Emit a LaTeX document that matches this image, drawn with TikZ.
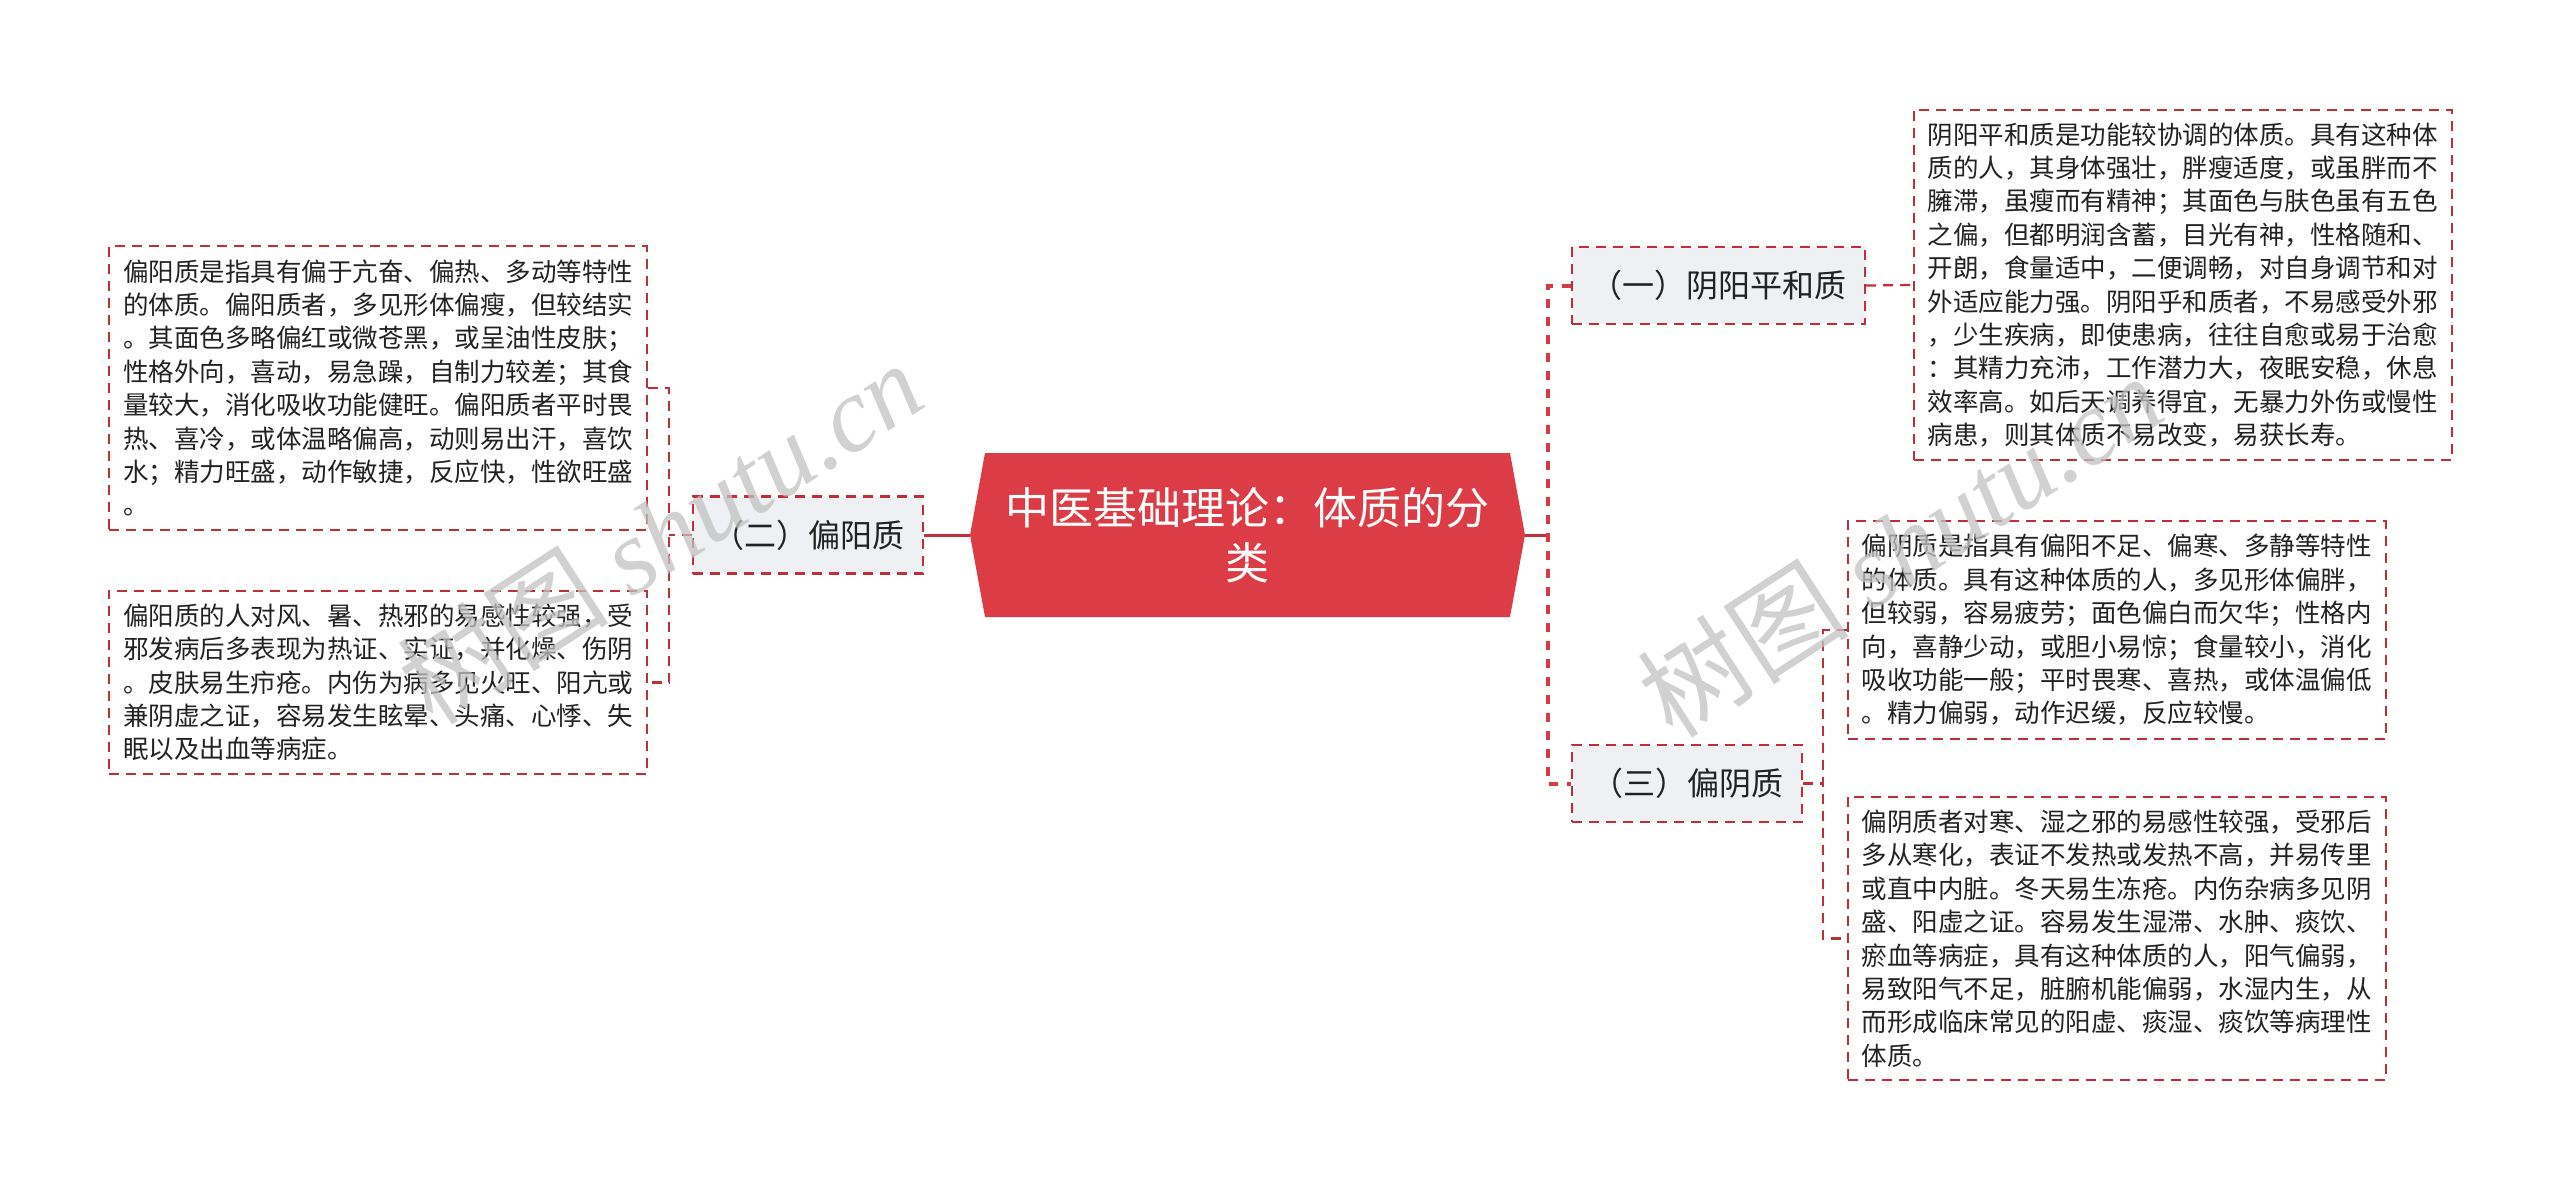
\documentclass[tikz,border=0pt]{standalone}
\usepackage{fontspec}
\setmainfont{Noto Sans CJK SC}
\newfontfamily\wmlat{Liberation Serif}
\definecolor{bdr}{HTML}{BE2F3A}
\definecolor{rootred}{HTML}{DC3C45}
\definecolor{subfill}{HTML}{EEF0F3}
\definecolor{txt}{HTML}{222222}
\definecolor{wmcol}{HTML}{C2C2C2}
\begin{document}
\begin{tikzpicture}[x=1pt,y=-1pt,
  txtbox/.style={draw=bdr, dash pattern=on 10pt off 7pt, line width=2pt, fill=white,
    align=left, inner xsep=14pt, inner ysep=13pt, minimum width=538pt,
    font=\fontsize{25.5pt}{33.4pt}\selectfont, text=txt},
  subbox/.style={draw=bdr, dash pattern=on 10pt off 7pt, line width=2.2pt, fill=subfill,
    minimum height=77pt, inner sep=0pt, font=\fontsize{32pt}{38pt}\selectfont, text=txt},
  roottext/.style={align=center, text=white, inner sep=0pt, font=\fontsize{44pt}{55pt}\selectfont},
  rootlink/.style={draw=bdr!90!rootred, line width=3pt},
  thinlink/.style={draw=bdr, line width=2.2pt, dash pattern=on 10pt off 7pt},
  thicklink/.style={draw=rootred!85!bdr, line width=4pt, dash pattern=on 9pt off 9pt},
  wmark/.style={rotate=33, text=wmcol, opacity=0.75, inner sep=0pt, font=\fontsize{106pt}{106pt}\selectfont}
]
\useasboundingbox (0,0) rectangle (2560,1193);
\fill[white] (0,0) rectangle (2560,1193);

% root
\coordinate (rootL) at (970,535);
\coordinate (rootR) at (1525,535);
\fill[rootred] (rootL) -- (985,453) -- (1510,453) -- (rootR) -- (1510,617) -- (985,617) -- cycle;
\node[roottext] (root) at (1247.5,535) {中医基础理论：体质的分\\类};

% branch nodes
\node[subbox, minimum width=230pt] (b2) at (808,535) {（二）偏阳质};
\node[subbox, minimum width=293pt] (b1) at (1718.5,285.5) {（一）阴阳平和质};
\node[subbox, minimum width=230pt] (b3) at (1687,783.5) {（三）偏阴质};

% leaves
\node[txtbox] (L1) at (378,388) {偏阳质是指具有偏于亢奋、偏热、多动等特性\\的体质。偏阳质者，多见形体偏瘦，但较结实\\。其面色多略偏红或微苍黑，或呈油性皮肤；\\性格外向，喜动，易急躁，自制力较差；其食\\量较大，消化吸收功能健旺。偏阳质者平时畏\\热、喜冷，或体温略偏高，动则易出汗，喜饮\\水；精力旺盛，动作敏捷，反应快，性欲旺盛\\。};
\node[txtbox] (L2) at (378,682.5) {偏阳质的人对风、暑、热邪的易感性较强，受\\邪发病后多表现为热证、实证，并化燥、伤阴\\。皮肤易生疖疮。内伤为病多见火旺、阳亢或\\兼阴虚之证，容易发生眩晕、头痛、心悸、失\\眠以及出血等病症。};
\node[txtbox] (R1) at (2182.5,285) {阴阳平和质是功能较协调的体质。具有这种体\\质的人，其身体强壮，胖瘦适度，或虽胖而不\\臃滞，虽瘦而有精神；其面色与肤色虽有五色\\之偏，但都明润含蓄，目光有神，性格随和、\\开朗，食量适中，二便调畅，对自身调节和对\\外适应能力强。阴阳乎和质者，不易感受外邪\\，少生疾病，即使患病，往往自愈或易于治愈\\：其精力充沛，工作潜力大，夜眠安稳，休息\\效率高。如后天调养得宜，无暴力外伤或慢性\\病患，则其体质不易改变，易获长寿。};
\node[txtbox] (R2) at (2116.5,630) {偏阴质是指具有偏阳不足、偏寒、多静等特性\\的体质。具有这种体质的人，多见形体偏胖，\\但较弱，容易疲劳；面色偏白而欠华；性格内\\向，喜静少动，或胆小易惊；食量较小，消化\\吸收功能一般；平时畏寒、喜热，或体温偏低\\。精力偏弱，动作迟缓，反应较慢。};
\node[txtbox] (R3) at (2116.5,938.5) {偏阴质者对寒、湿之邪的易感性较强，受邪后\\多从寒化，表证不发热或发热不高，并易传里\\或直中内脏。冬天易生冻疮。内伤杂病多见阴\\盛、阳虚之证。容易发生湿滞、水肿、痰饮、\\瘀血等病症，具有这种体质的人，阳气偏弱，\\易致阳气不足，脏腑机能偏弱，水湿内生，从\\而形成临床常见的阳虚、痰湿、痰饮等病理性\\体质。};

% connectors
\coordinate (spL) at (669,535);
\coordinate (spR) at (1548,535);
\coordinate (spR3) at (1823,783.5);
\draw[rootlink] (rootL) -- (b2.east);
\draw[thinlink] (b2.west) -- (spL);
\draw[thinlink] (L1.east) -| (spL) |- (L2.east);
\draw[rootlink] (rootR) -- (spR);
\draw[thicklink] (b1.west) -| (spR) |- (b3.west);
\draw[thinlink] (b1.east) -- (R1.west);
\draw[thinlink] (b3.east) -- (spR3);
\draw[thinlink] (R2.west) -| (spR3) |- (R3.west);

% watermarks
\node[wmark] (wm1) at (660,532) {树图 {\wmlat\itshape shutu.cn}};
\node[wmark] (wm2) at (1900,545) {树图 {\wmlat\itshape shutu.cn}};
\end{tikzpicture}
\end{document}
